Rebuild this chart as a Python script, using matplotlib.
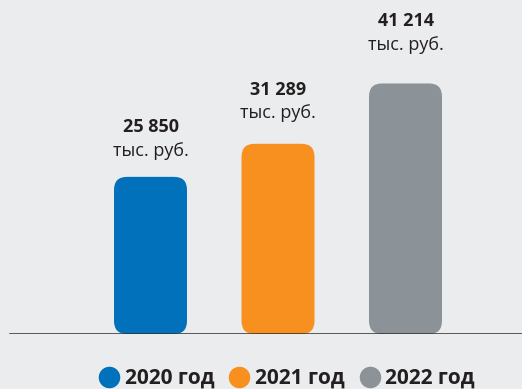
import numpy as np
import matplotlib
matplotlib.use("Agg")
import matplotlib.pyplot as plt
from matplotlib.patches import FancyBboxPatch
from matplotlib.lines import Line2D

# data
years = ["2020 год", "2021 год", "2022 год"]
values = [25850, 31289, 41214]
value_labels = ["25 850", "31 289", "41 214"]
unit_label = "тыс. руб."
colors = ["#0071BA", "#F7901E", "#8B9298"]

BG = "#EBECEE"
TXT = "#231F20"
plt.rcParams['font.family'] = ['Open Sans', 'DejaVu Sans']

fig = plt.figure(figsize=(5.22, 3.89), dpi=100, facecolor=BG)
ax = fig.add_axes([0, 55 / 389, 1, 334 / 389])
ax.set_facecolor(BG)
ax.set_xlim(-1.1804, 2.9137)
ax.set_ylim(0, 334 * 164.5)
ax.axis("off")

x = np.arange(len(values))
width = 0.5725

# aspect of data units on screen, so the corners come out round
p0 = ax.transData.transform((0, 0))
px_x = ax.transData.transform((1, 0))[0] - p0[0]
px_y = ax.transData.transform((0, 1))[1] - p0[1]
aspect = px_x / px_y
radius = 13 / px_x

for xi, v, c, lab in zip(x, values, colors, value_labels):
    box = FancyBboxPatch((xi - width / 2, 0), width, v,
                         boxstyle=f"round,pad=0,rounding_size={radius}",
                         mutation_aspect=aspect, fc=c, ec="none", zorder=2)
    ax.add_patch(box)
    ax.text(xi, v * 1.135, unit_label, ha="center", va="baseline",
            fontsize=13, fontweight="medium", color=TXT)
    ax.annotate(lab, (xi, v * 1.135), xytext=(0, 16.9), textcoords="offset points",
                ha="center", va="baseline", fontsize=13, fontweight="bold", color=TXT)

ax.axhline(0, xmin=10 / 522, xmax=1, color="#2f2f2f", lw=1.1, zorder=3)

handles = [Line2D([], [], ls="none", marker="o", ms=15.5, mfc=c, mec="none") for c in colors]
leg = fig.legend(handles, years, loc="center", bbox_to_anchor=(288 / 522, 10.5 / 389),
                 ncol=3, frameon=False, handlelength=0.8, handletextpad=0.35,
                 columnspacing=0.8, prop={"size": 15, "weight": "bold"})
for t in leg.get_texts():
    t.set_color(TXT)

fig.savefig("out.png", dpi=100, facecolor=BG)
